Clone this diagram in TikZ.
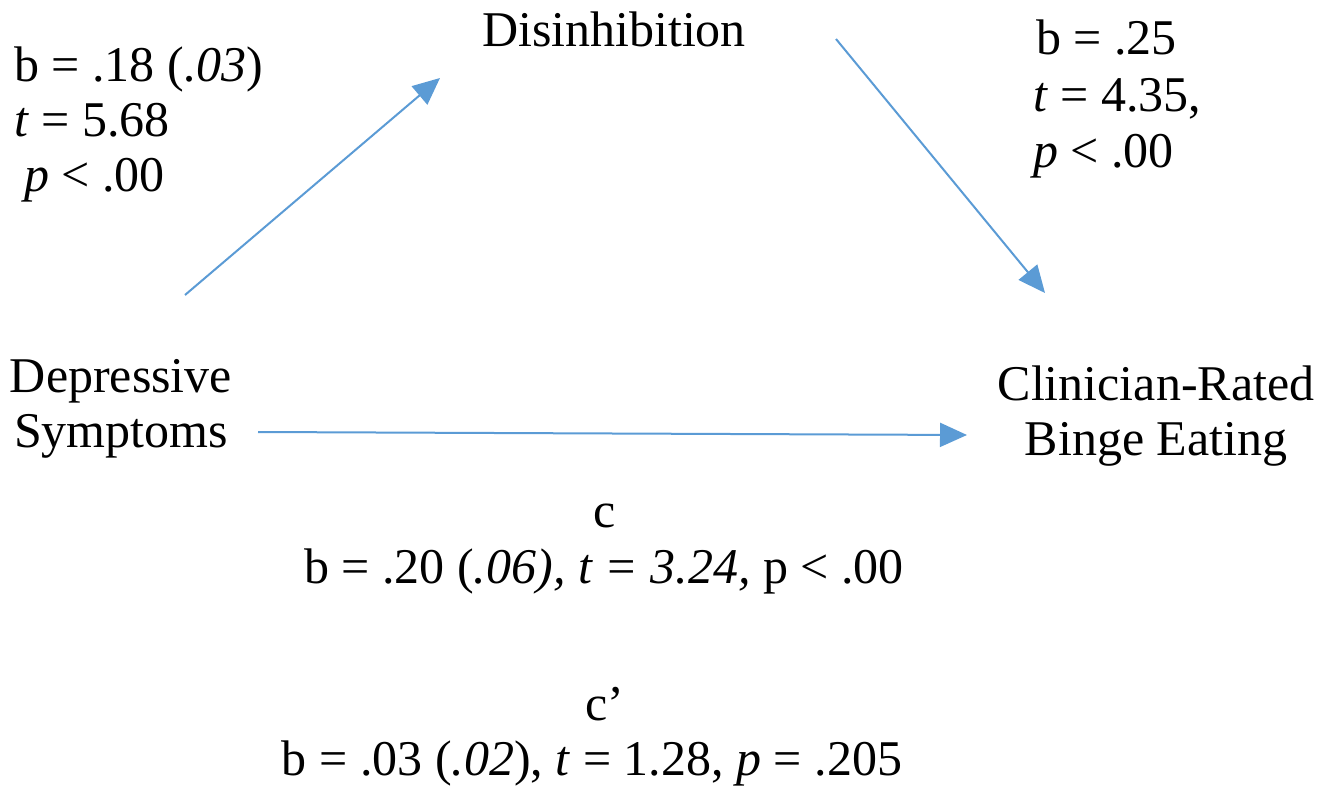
\documentclass[tikz,border=0pt]{standalone}
\usepackage{fontspec}
\setmainfont{Liberation Serif}
\usetikzlibrary{arrows.meta}
\definecolor{arrowblue}{HTML}{5B9BD5}
\tikzset{
  lbl/.style={inner sep=0pt, font=\fontsize{50}{55}\selectfont},
  conn/.style={draw=arrowblue, line width=2pt, -{Triangle[length=27pt,width=24pt]}}
}
\begin{document}
\begin{tikzpicture}[x=1pt,y=-1pt]
\useasboundingbox (0,0) rectangle (1335,791);
% nodes
\node[lbl, anchor=base] (dis) at (614,47) {Disinhibition};
\node[lbl, anchor=base] (dep1) at (121,392) {Depressive};
\node[lbl, anchor=base] (dep2) at (121,447) {Symptoms};
\node[lbl, anchor=base] (cli1) at (1156,400) {Clinician-Rated};
\node[lbl, anchor=base] (cli2) at (1156,455) {Binge Eating};
% a path label
\node[lbl, anchor=base west] (a1) at (14,82) {b = .18 (\textit{.03})};
\node[lbl, anchor=base west] (a2) at (14,137) {\textit{t} = 5.68};
\node[lbl, anchor=base west] (a3) at (24,192) {\textit{p} < .00};
% b path label
\node[lbl, anchor=base west] (b1) at (1036,55) {b = .25};
\node[lbl, anchor=base west] (b2) at (1033,112) {\textit{t} = 4.35,};
\node[lbl, anchor=base west] (b3) at (1033,168) {\textit{p} < .00};
% c labels
\node[lbl, anchor=base] (c0) at (605,527) {c};
\node[lbl, anchor=base] (c1) at (604,583) {b = .20 (\textit{.06), t = 3.24,} p < .00};
\node[lbl, anchor=base] (cp0) at (605,720) {c’};
\node[lbl, anchor=base] (cp1) at (592,775) {b = .03 (\textit{.02}), \textit{t} = 1.28, \textit{p} = .205};
% connector end points
\coordinate (s1) at (185,295);
\coordinate (e1) at (440,78);
\coordinate (s2) at (836,39);
\coordinate (e2) at (1045,293);
\coordinate (s3) at (258,432);
\coordinate (e3) at (967,435);
\draw[conn] (s1) -- (e1);
\draw[conn] (s2) -- (e2);
\draw[conn] (s3) -- (e3);
\end{tikzpicture}
\end{document}
